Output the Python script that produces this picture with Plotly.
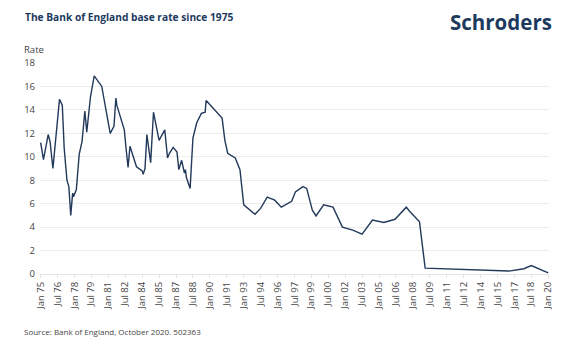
import plotly.graph_objects as go

# ---- data ----
dates = [
    "1975-01", "1975-04", "1975-09", "1975-11", "1976-02", "1976-05", "1976-07", "1976-09",
    "1976-12", "1977-02", "1977-05", "1977-07", "1977-09", "1977-11", "1977-12", "1978-03",
    "1978-06", "1978-09", "1978-12", "1979-02", "1979-06", "1979-10", "1980-06", "1980-10",
    "1981-03", "1981-07", "1981-09", "1981-10", "1982-03", "1982-06", "1982-08", "1982-10",
    "1982-12", "1983-02", "1983-05", "1983-07", "1984-01", "1984-02", "1984-04", "1984-06",
    "1984-08", "1984-10", "1985-01", "1985-03", "1985-05", "1985-07", "1986-01", "1986-04",
    "1986-06", "1986-10", "1987-02", "1987-04", "1987-07", "1987-10", "1987-11", "1987-12",
    "1988-04", "1988-07", "1988-11", "1989-04", "1989-08", "1989-09", "1991-02", "1991-05",
    "1991-08", "1992-04", "1992-09", "1993-01", "1994-01", "1994-07", "1995-02", "1995-10",
    "1996-05", "1997-04", "1997-08", "1998-04", "1998-08", "1999-02", "1999-06", "2000-02",
    "2000-12", "2001-05", "2001-10", "2002-09", "2003-07", "2004-06", "2005-06", "2006-06",
    "2007-06", "2007-09", "2008-08", "2009-02", "2016-07", "2017-11", "2018-07", "2020-01",
]
rates = [
    11.2, 9.75, 11.9, 11.3, 9.0, 11.3, 12.7, 14.9,
    14.4, 10.7, 8.0, 7.45, 5.0, 6.9, 6.6, 7.2,
    10.2, 11.3, 13.9, 12.1, 15.1, 16.9, 16.0, 14.1,
    12.0, 12.6, 15.0, 14.4, 13.1, 12.3, 10.6, 9.1,
    10.9, 10.4, 9.7, 9.15, 8.8, 8.5, 9.0, 11.9,
    10.7, 9.5, 13.8, 12.9, 12.3, 11.4, 12.3, 9.9,
    10.3, 10.8, 10.4, 8.9, 9.7, 8.6, 8.9, 8.25,
    7.3, 11.6, 12.9, 13.7, 13.8, 14.8, 13.3, 11.4,
    10.3, 9.9, 8.9, 5.9, 5.1, 5.6, 6.55, 6.3,
    5.7, 6.2, 7.0, 7.45, 7.3, 5.45, 4.95, 5.9,
    5.7, 4.9, 4.0, 3.75, 3.4, 4.6, 4.4, 4.67,
    5.7, 5.4, 4.46, 0.5, 0.25, 0.45, 0.72, 0.1,
]

tick_dates = []
tick_labels = []
y, m = 1975, 1
while (y, m) <= (2020, 1):
    tick_dates.append(f"{y}-{m:02d}-01")
    tick_labels.append(("Jan " if m == 1 else "Jul ") + f"{y % 100:02d}")
    if m == 1:
        m = 7
        y += 1
    else:
        m = 1
        y += 2

y_ticks = [0, 2, 4, 6, 8, 10, 12, 14, 16, 18]

title_text = "The Bank of England base rate since 1975"
source_text = "Source: Bank of England, October 2020. 502363"
brand_text = "Schroders"

# ---- layout geometry ----
W, H = 572, 342
L, R, T, B = 40, 23, 63, 68
pw, ph = W - L - R, H - T - B

def px(x):
    return (x - L) / pw

def py(y):
    return (H - B - y) / ph

NAVY = "#1d3a5e"

fig = go.Figure()
fig.add_trace(go.Scatter(
    x=dates, y=rates, mode="lines",
    line=dict(color="#22395a", width=1.4),
    hoverinfo="skip", showlegend=False,
))

fig.update_layout(
    width=W, height=H,
    margin=dict(l=L, r=R, t=T, b=B),
    paper_bgcolor="white", plot_bgcolor="white",
    font=dict(family="Open Sans", color="#444444"),
    xaxis=dict(
        type="date",
        range=["1974-12-10", "2020-01-25"],
        tickmode="array", tickvals=tick_dates, ticktext=tick_labels,
        tickangle=-90, tickfont=dict(size=9.5, color="#444444"),
        showgrid=False, zeroline=False,
        showline=True, linecolor="#e4e4e4", linewidth=1,
        ticks="outside", ticklen=3, tickcolor="#e4e4e4",
    ),
    yaxis=dict(
        range=[0, 18], tickmode="array", tickvals=y_ticks,
        tickfont=dict(size=9.5, color="#444444"),
        showgrid=True, gridcolor="#ececec", gridwidth=1,
        zeroline=False, showline=False, ticks="",
        ticklabelstandoff=4,
    ),
    annotations=[
        dict(text="<b>" + title_text + "</b>", xref="paper", yref="paper",
             x=px(23), y=py(17), xanchor="left", yanchor="middle",
             showarrow=False, font=dict(size=10.2, color=NAVY, family="Open Sans")),
        dict(text="Rate", xref="paper", yref="paper",
             x=px(22), y=py(49), xanchor="left", yanchor="middle",
             showarrow=False, font=dict(size=9.5, color="#444444")),
        dict(text="<b>" + brand_text + "</b>", xref="paper", yref="paper",
             x=px(554), y=py(22), xanchor="right", yanchor="middle",
             showarrow=False, font=dict(size=20.5, color=NAVY, family="Open Sans")),
        dict(text=source_text, xref="paper", yref="paper",
             x=px(22), y=py(331), xanchor="left", yanchor="middle",
             showarrow=False, font=dict(size=8, color="#444444")),
    ],
)

fig.write_html("out.html")
